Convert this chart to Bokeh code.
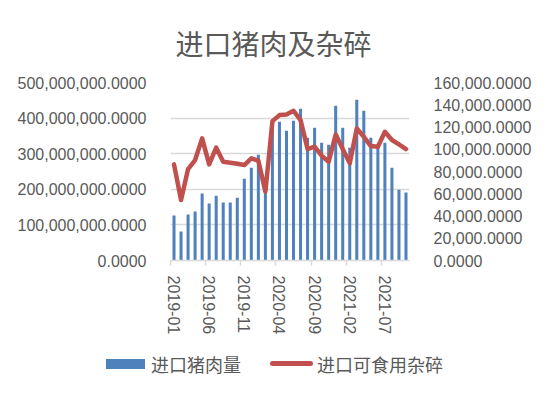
from bokeh.plotting import figure
from bokeh.models import (Range1d, LinearAxis, FixedTicker, NumeralTickFormatter,
                          ColumnDataSource, Div)
from bokeh.layouts import column
from bokeh.embed import file_html
from bokeh.resources import INLINE

months = ["2019-01", "2019-02", "2019-03", "2019-04", "2019-05", "2019-06",
          "2019-07", "2019-08", "2019-09", "2019-10", "2019-11", "2019-12",
          "2020-01", "2020-02", "2020-03", "2020-04", "2020-05", "2020-06",
          "2020-07", "2020-08", "2020-09", "2020-10", "2020-11", "2020-12",
          "2021-01", "2021-02", "2021-03", "2021-04", "2021-05", "2021-06",
          "2021-07", "2021-08", "2021-09", "2021-10"]

# 进口猪肉量 (left axis)
pork = [126.2e6, 81.3e6, 129.0e6, 137.4e6, 187.9e6, 159.8e6, 182.2e6, 162.6e6,
        162.6e6, 176.6e6, 229.9e6, 260.7e6, 297.2e6, 190.0e6, 385.0e6, 389.7e6,
        364.5e6, 392.5e6, 426.2e6, 344.9e6, 372.9e6, 330.8e6, 325.2e6, 434.6e6,
        372.9e6, 316.8e6, 451.4e6, 420.6e6, 344.9e6, 319.6e6, 330.8e6, 260.7e6,
        199.0e6, 190.7e6]

# 进口可食用杂碎 (right axis)
offal = [86400, 54400, 82200, 90300, 109800, 86400, 101400, 88800, 87900, 87000,
         85800, 91800, 89700, 61900, 125300, 130700, 131300, 134600, 126200,
         100200, 102300, 94200, 88800, 113300, 100200, 87300, 118700, 111200,
         102900, 102300, 115700, 108300, 104400, 100200]

tick_every = 5
left_ticks = [0, 100e6, 200e6, 300e6, 400e6, 500e6]
right_ticks = [0, 20000, 40000, 60000, 80000, 100000, 120000, 140000, 160000]

title_text = "进口猪肉及杂碎"
series_names = ["进口猪肉量", "进口可食用杂碎"]

BLUE = "#4F81BD"
RED = "#C0504D"
GRID = "#D9D9D9"
TXT = "#595959"
NUM_FONT = "Liberation Sans"
CJK_FONT = "Noto Sans CJK SC"

idx = list(range(len(months)))
src = ColumnDataSource(dict(x=idx, pork=pork, offal=offal, m=months))

p = figure(frame_width=239, frame_height=178, output_backend="svg",
           toolbar_location=None,
           x_range=Range1d(-0.5, len(months) - 0.5),
           y_range=Range1d(left_ticks[0], left_ticks[-1]),
           min_border_left=170, min_border_right=129,
           min_border_top=81, min_border_bottom=89)
p.extra_y_ranges = {"right": Range1d(right_ticks[0], right_ticks[-1])}
p.outline_line_color = None
p.background_fill_color = "white"
p.border_fill_color = "white"

bars = p.vbar(x="x", top="pork", width=0.43, source=src, fill_color=BLUE,
              line_color=None)
line = p.line(x="x", y="offal", source=src, y_range_name="right",
              line_color=RED, line_width=4.5, line_join="round", line_cap="round")

# title
p.title.text = title_text
p.title.align = "left"
p.title.offset = 5
p.title.standoff = 40
p.title.text_font = CJK_FONT
p.title.text_font_size = "28px"
p.title.text_font_style = "normal"
p.title.text_color = TXT

# left axis
ya = p.yaxis[0]
ya.ticker = FixedTicker(ticks=left_ticks)
ya.formatter = NumeralTickFormatter(format="0,0.0000")
ya.axis_line_color = None
ya.major_tick_line_color = None
ya.minor_tick_line_color = None
ya.major_label_standoff = 18
ya.major_label_text_font = NUM_FONT
ya.major_label_text_font_size = "16px"
ya.major_label_text_color = TXT

# right axis
ra = LinearAxis(y_range_name="right", ticker=FixedTicker(ticks=right_ticks),
                formatter=NumeralTickFormatter(format="0,0.0000"))
ra.axis_line_color = None
ra.major_tick_line_color = None
ra.minor_tick_line_color = None
ra.major_label_standoff = 18
ra.major_label_text_font = NUM_FONT
ra.major_label_text_font_size = "16px"
ra.major_label_text_color = TXT
p.add_layout(ra, "right")

# x axis
major = idx[::tick_every]
minor = [i - 0.5 for i in major]
xa = p.xaxis[0]
xa.ticker = FixedTicker(ticks=major, minor_ticks=minor)
xa.major_label_overrides = {i: months[i] for i in major}
xa.major_label_orientation = "vertical"
xa.axis_line_color = GRID
xa.axis_line_width = 1.5
xa.major_tick_line_color = None
xa.major_tick_out = 0
xa.major_tick_in = 0
xa.minor_tick_line_color = GRID
xa.minor_tick_line_width = 1.5
xa.minor_tick_out = 5
xa.minor_tick_in = 0
xa.major_label_standoff = 10
xa.major_label_text_font = NUM_FONT
xa.major_label_text_font_size = "16px"
xa.major_label_text_color = TXT

p.xgrid.visible = False
p.ygrid.ticker = FixedTicker(ticks=left_ticks)
p.ygrid.grid_line_color = GRID
p.ygrid.grid_line_width = 1.5

# legend strip (HTML) below the chart
legend_html = (
    f'<div style="position:relative;width:538px;height:40px;'
    f'font-family:\'{CJK_FONT}\';font-size:18px;color:{TXT};">'
    f'<span style="position:absolute;left:106px;top:10px;width:39px;height:10px;'
    f'background:{BLUE};"></span>'
    f'<span style="position:absolute;left:151px;top:3px;line-height:24px;'
    f'white-space:nowrap;">{series_names[0]}</span>'
    f'<span style="position:absolute;left:270px;top:12px;width:43px;height:5px;'
    f'border-radius:3px;background:{RED};"></span>'
    f'<span style="position:absolute;left:317px;top:3px;line-height:24px;'
    f'white-space:nowrap;">{series_names[1]}</span>'
    f'</div>'
)
lg = Div(text=legend_html, width=538, height=40, margin=0)

open("out.html", "w").write(file_html(column(p, lg, spacing=0), INLINE))
